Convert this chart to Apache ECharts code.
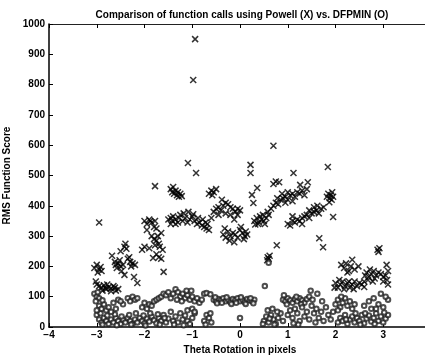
<!DOCTYPE html>
<html>
<head>
<meta charset="utf-8">
<script src="https://cdn.jsdelivr.net/npm/echarts@6/dist/echarts.min.js"></script>
<style>html,body{margin:0;padding:0;background:#fff}#c{width:425px;height:356px}</style>
</head>
<body>
<div id="c"></div>
<script>
const titleText = "Comparison of function calls using Powell (X) vs. DFPMIN (O)";
const xAxisName = "Theta Rotation in pixels";
const yAxisName = "RMS Function Score";
const xTicks = [-4, -3, -2, -1, 0, 1, 2, 3, 4];
const yTicks = [0, 100, 200, 300, 400, 500, 600, 700, 800, 900, 1000];

// Powell (X) points: [theta, score]
const powell = [
[-3.05,195],[-3.0,205],[-2.95,190],[-2.98,180],[-2.92,198],[-2.9,185],[-3.02,150],[-2.95,345],
[-3.0,140],[-2.95,135],[-2.9,130],[-2.85,138],[-2.8,125],[-2.75,132],[-2.7,128],[-2.65,135],[-2.6,120],[-2.88,120],[-2.78,140],[-2.7,118],[-2.62,130],[-2.55,125],[-2.82,128],
[-2.68,235],[-2.62,215],[-2.6,205],[-2.55,210],[-2.5,200],[-2.58,195],[-2.52,220],[-2.45,205],[-2.48,185],[-2.42,172],[-2.5,250],[-2.42,265],[-2.4,275],[-2.38,258],
[-2.35,225],[-2.3,215],[-2.25,210],[-2.28,200],[-2.2,205],[-2.32,230],[-2.22,165],[-2.15,145],
[-2.05,255],[-2.0,265],[-1.95,320],[-1.88,350],[-1.78,465],[-1.9,260],
[-2.0,350],[-1.95,340],[-1.9,355],[-1.85,345],[-1.8,330],[-1.75,325],[-1.78,350],
[-1.85,300],[-1.8,290],[-1.75,285],[-1.7,275],[-1.78,270],[-1.72,300],[-1.65,310],[-1.68,265],[-1.62,255],[-1.82,228],[-1.6,182],[-1.75,240],[-1.7,230],[-1.65,225],
[-1.45,455],[-1.42,445],[-1.38,440],[-1.35,450],[-1.32,435],[-1.3,445],[-1.28,430],[-1.25,440],[-1.4,462],[-1.22,432],
[-1.5,355],[-1.45,360],[-1.42,350],[-1.4,365],[-1.35,355],[-1.3,345],[-1.28,360],[-1.25,370],[-1.2,350],[-1.15,360],[-1.1,345],[-1.05,355],[-1.0,365],[-0.95,350],[-0.9,340],[-0.88,360],[-0.85,345],[-0.8,335],[-0.78,355],[-0.75,330],[-0.72,345],[-0.7,325],[-0.68,340],[-0.65,320],[-1.18,375],[-1.08,380],[-0.98,372],[-1.35,340],[-1.45,340],
[-1.09,541],[-0.92,508],[-0.94,950],[-0.98,815],
[-0.65,440],[-0.6,450],[-0.55,445],[-0.5,455],[-0.58,435],
[-0.6,360],[-0.55,380],[-0.5,390],[-0.45,395],[-0.4,385],[-0.35,400],[-0.3,410],[-0.25,405],[-0.2,395],[-0.15,390],[-0.1,380],[-0.05,370],[-0.45,370],[-0.3,375],[-0.2,370],[-0.12,355],[-0.38,420],[-0.05,390],[0.0,385],
[-0.35,305],[-0.3,295],[-0.25,315],[-0.2,300],[-0.15,310],[-0.1,305],[-0.05,295],[0.0,320],[0.05,310],[0.1,300],[0.12,315],[0.15,305],[-0.22,285],[-0.12,280],[0.08,290],[0.02,330],[-0.32,325],
[0.22,535],[0.22,508],[0.25,436],[0.36,459],[0.28,409],
[0.3,350],[0.35,360],[0.4,345],[0.42,365],[0.45,355],[0.5,350],[0.55,360],[0.48,370],[0.38,340],[0.6,370],[0.58,380],[0.32,338],[0.52,340],
[0.65,390],[0.7,400],[0.75,410],[0.8,405],[0.85,420],[0.9,425],[0.95,430],[1.0,420],[1.05,435],[1.1,440],[1.15,430],[1.2,445],[1.25,440],[1.3,450],[0.88,440],[1.0,445],[0.78,425],[0.95,410],[1.1,415],[1.35,435],[1.4,455],
[0.75,480],[0.82,478],[0.7,472],[1.26,469],[1.42,478],[1.12,508],[1.84,528],[0.7,598],
[1.0,340],[1.05,335],[1.1,350],[1.15,345],[1.2,355],[1.25,350],[1.3,360],[1.35,365],[1.4,370],[1.45,360],[1.5,375],[1.55,380],[1.6,385],[1.65,375],[1.7,390],[1.75,395],[1.55,395],[1.45,385],[1.3,340],[1.62,400],[1.1,365],
[1.82,430],[1.85,440],[1.88,425],[1.9,435],[1.92,420],[1.95,430],[1.87,412],[1.93,445],
[1.95,363],[1.66,293],[1.74,263],[0.77,270],[0.58,230],[0.6,225],[0.62,235],[0.57,220],
[2.0,145],[2.05,130],[2.1,140],[2.15,150],[2.2,135],[2.25,145],[2.3,130],[2.35,140],[2.4,150],[2.45,135],[2.5,145],[2.55,140],[2.6,150],[2.08,155],[2.18,125],[2.28,150],[2.38,125],[1.98,130],
[2.12,205],[2.18,195],[2.22,210],[2.28,185],[2.32,200],[2.35,222],[2.4,190],[2.25,180],[2.48,200],
[2.62,170],[2.65,180],[2.7,165],[2.75,175],[2.8,185],[2.85,170],[2.9,180],[2.95,175],[3.0,165],[2.72,190],[2.82,160],[2.68,155],[2.88,255],[2.9,248],[2.92,260],[3.07,205],[3.1,185],[3.05,170],[3.08,155],[3.1,140],[3.0,150],[2.78,150],[2.6,132]
];

// DFPMIN (O) points: [theta, score]
const dfpmin = [
[-3.0,40],[-2.95,25],[-2.9,15],[-2.85,30],[-2.8,20],[-2.75,10],[-2.7,25],[-2.65,15],[-2.6,30],[-2.55,20],[-2.5,10],[-2.45,25],[-2.4,15],[-2.35,30],[-2.3,20],[-2.25,10],[-2.2,25],[-2.15,15],[-2.1,30],[-2.05,20],[-2.0,12],[-1.95,28],[-1.9,18],[-1.85,35],[-1.8,22],[-1.75,12],[-1.7,30],[-1.65,20],[-1.6,40],[-1.55,15],[-1.5,28],[-1.45,50],[-1.4,20],[-1.35,35],[-1.3,15],[-1.25,45],[-1.2,25],[-1.15,38],[-1.1,20],[-1.05,10],[-1.0,30],[-0.95,45],
[-0.75,20],[-0.7,40],[-0.65,30],[-0.6,15],[-0.72,8],[-0.62,45],
[-2.92,45],[-2.78,38],[-2.62,42],[-2.48,35],[-2.32,40],[-2.18,45],[-2.02,38],[-1.88,45],[-1.72,42],[-1.58,30],[-2.88,8],[-2.58,6],[-2.28,8],[-1.98,5],[-1.68,8],[-1.38,8],[-1.18,6],
[-3.05,110],[-3.0,100],[-2.95,95],[-2.98,115],[-3.02,85],[-2.95,70],[-2.9,60],[-2.85,75],[-2.8,55],[-2.75,65],[-2.7,50],[-2.65,80],[-2.6,60],[-3.0,55],[-2.88,88],
[-2.35,95],[-2.3,85],[-2.25,100],[-2.2,90],[-2.15,95],[-2.45,75],[-2.55,90],[-2.5,85],
[-2.05,65],[-2.0,80],[-1.95,60],[-1.9,75],[-1.85,70],[-1.8,85],[-1.75,90],
[-1.7,95],[-1.65,100],[-1.6,110],[-1.55,105],[-1.5,115],[-1.45,95],
[-1.4,110],[-1.35,125],[-1.3,115],[-1.25,100],[-1.2,110],[-1.15,95],[-1.1,105],[-1.05,90],[-1.0,100],[-0.95,85],[-0.9,95],[-0.85,80],[-0.8,90],[-1.32,90],[-1.22,85],[-1.12,120],[-0.75,110],[-1.02,120],
[-1.1,55],[-1.0,60],[-0.95,50],[-0.7,112],[-0.62,108],
[-0.55,90],[-0.5,85],[-0.45,92],[-0.4,88],[-0.35,95],[-0.3,85],[-0.25,90],[-0.2,82],[-0.15,92],[-0.1,88],[-0.05,95],[0.0,85],[0.05,90],[0.1,82],[0.15,92],[0.2,88],[0.25,85],[0.3,90],[-0.48,78],[-0.38,80],[-0.28,98],[-0.18,76],[-0.08,80],[0.02,98],[0.12,76],[0.22,95],[-0.52,98],[0.28,78],
[0.52,135],[0.6,212],[0.0,30],
[0.5,20],[0.55,35],[0.6,15],[0.65,40],[0.7,25],[0.75,10],[0.8,30],[0.85,45],[0.9,20],[0.58,55],[0.68,60],[0.78,50],[0.62,28],[0.72,8],[0.48,10],
[0.9,90],[0.95,85],[1.0,95],[1.05,88],[1.1,80],[1.15,92],[1.2,85],[1.25,95],[1.3,88],[1.35,80],[1.4,92],[1.45,100],[0.98,75],[1.18,100],[1.28,75],[0.92,105],
[1.0,40],[1.05,55],[1.1,30],[1.15,60],[1.2,45],[1.25,20],[1.3,65],[1.35,35],[1.4,50],[1.45,25],[1.5,70],[1.55,45],[1.6,60],[1.65,30],[1.7,50],[1.75,20],[1.8,65],[1.85,40],[1.9,25],[1.95,50],[1.52,90],[1.62,110],[1.48,120],[1.72,85],[1.58,15],[1.22,8],[1.12,12],
[2.0,75],[2.05,90],[2.1,65],[2.15,80],[2.2,95],[2.25,70],[2.3,85],[2.35,60],[2.4,75],[2.05,55],[2.12,100],
[2.05,15],[2.1,30],[2.15,20],[2.2,40],[2.25,10],[2.3,25],[2.35,35],[2.4,15],[2.45,30],[2.5,20],[2.55,40],[2.6,12],[2.65,28],[2.7,38],[2.75,18],[2.8,30],[2.85,45],[2.9,20],[2.95,35],[3.0,15],[3.05,28],[3.1,40],[2.22,25],[2.42,45],[2.62,45],[2.82,10],[3.02,48],[2.52,8],
[2.6,70],[2.7,85],[2.75,60],[2.8,95],[2.9,75],[2.95,110],[3.0,65],[3.1,90],[2.85,60],[3.05,100]
];

const FONT = "Liberation Sans";
const fmtX = v => (v < 0 ? "\u2212" + Math.abs(v) : String(v));
const fmtY = v => String(v);

const chart = echarts.init(document.getElementById('c'), null, {renderer: 'canvas'});
chart.setOption({
  animation: false,
  backgroundColor: '#fff',
  title: {
    text: titleText, left: 237, top: 5, textAlign: 'center',
    textStyle: {fontFamily: FONT, fontSize: 10, fontWeight: 'bold', color: '#000'}
  },
  grid: {left: 49, right: -6, top: 24, bottom: 29, containLabel: false, outerBoundsMode: 'none'},
  xAxis: [{
    type: 'value', min: xTicks[0], max: xTicks[xTicks.length - 1], interval: 1,
    name: xAxisName, nameLocation: 'middle', nameGap: 16,
    nameTextStyle: {fontFamily: FONT, fontSize: 10, fontWeight: 'bold', color: '#000'},
    axisLine: {show: true, onZero: false, lineStyle: {color: '#000', width: 1.5}},
    axisTick: {show: true, inside: true, length: 4, lineStyle: {color: '#000'}},
    axisLabel: {fontFamily: FONT, fontSize: 10, fontWeight: 'bold', color: '#000', margin: 3, formatter: fmtX},
    splitLine: {show: false}
  }, {
    type: 'value', position: 'top', min: xTicks[0], max: xTicks[xTicks.length - 1], interval: 1,
    axisLine: {show: true, onZero: false, lineStyle: {color: '#222', width: 1}},
    axisTick: {show: true, inside: true, length: 4, lineStyle: {color: '#000'}},
    axisLabel: {show: false}, splitLine: {show: false}
  }],
  yAxis: [{
    type: 'value', min: yTicks[0], max: yTicks[yTicks.length - 1], interval: 100,
    name: yAxisName, nameLocation: 'middle', nameGap: 30, nameRotate: 90,
    nameTextStyle: {fontFamily: FONT, fontSize: 10, fontWeight: 'bold', color: '#000'},
    axisLine: {show: true, onZero: false, lineStyle: {color: '#000', width: 1.5}},
    axisTick: {show: true, inside: true, length: 4, lineStyle: {color: '#000'}},
    axisLabel: {fontFamily: FONT, fontSize: 10, fontWeight: 'bold', color: '#000', margin: 4, formatter: fmtY},
    splitLine: {show: false}
  }],
  series: [{
    name: 'Powell (X)', type: 'scatter', data: powell,
    symbol: 'path://M0,0L10,10M10,0L0,10', symbolSize: 6,
    itemStyle: {color: 'rgba(0,0,0,0)', borderColor: '#000', borderWidth: 1.5}
  }, {
    name: 'DFPMIN (O)', type: 'scatter', data: dfpmin,
    symbol: 'emptyCircle', symbolSize: 4.5,
    itemStyle: {color: '#222', borderColor: '#222', borderWidth: 0.8}
  }]
});
</script>
</body>
</html>
